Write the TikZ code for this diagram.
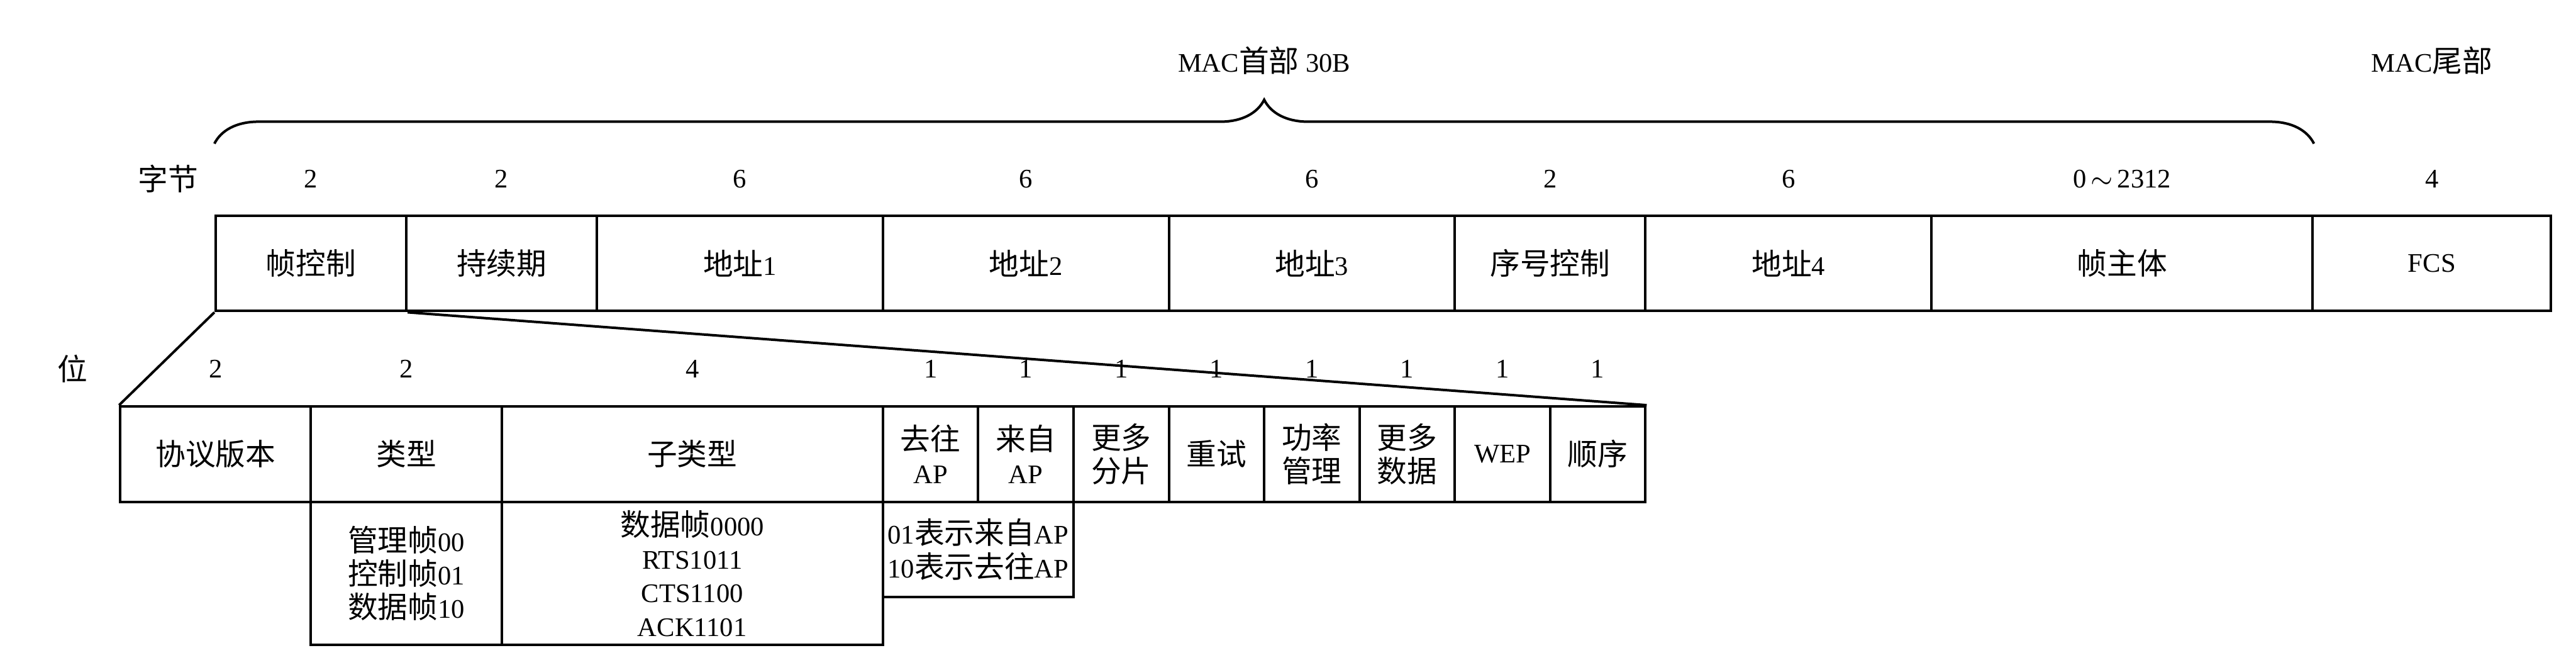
\documentclass[tikz,border=0pt]{standalone}
\usepackage{fontspec}
\setmainfont{Liberation Serif}
\newfontfamily\cjk[Scale=1.12]{Noto Sans CJK SC}
\newcommand{\zh}[1]{{\cjk #1}}
\usetikzlibrary{positioning,decorations.pathreplacing}
\tikzset{field/.style={draw,line width=.75pt,inner sep=0pt,minimum height=1cm,align=center},notebox/.style={draw,line width=.75pt,inner sep=0pt,align=center},numlabel/.style={inner sep=1pt},wedge/.style={line width=.75pt}}

\begin{document}
\begin{tikzpicture}[font=\fontsize{8}{10}\selectfont]
\useasboundingbox (-2.2625,-4.7625) rectangle (24.7625,2.2625);
% MAC frame (bytes)
\node[field,minimum width=2cm] (fc) at (1,-.5) {\zh{帧控制}};
\node[field,minimum width=2cm] (dur) at (3,-.5) {\zh{持续期}};
\node[field,minimum width=3cm] (addrA) at (5.5,-.5) {\zh{地址}1};
\node[field,minimum width=3cm] (addrB) at (8.5,-.5) {\zh{地址}2};
\node[field,minimum width=3cm] (addrC) at (11.5,-.5) {\zh{地址}3};
\node[field,minimum width=2cm] (seq) at (14,-.5) {\zh{序号控制}};
\node[field,minimum width=3cm] (addrD) at (16.5,-.5) {\zh{地址}4};
\node[field,minimum width=4cm] (body) at (20,-.5) {\zh{帧主体}};
\node[field,minimum width=2.5cm] (fcs) at (23.25,-.5) {FCS};
\node[numlabel] (bytes) at (-.5,.3875) {\zh{字节}};
\foreach \f/\v in {fc/2,dur/2,addrA/6,addrB/6,addrC/6,seq/2,addrD/6,body/{0\,$\sim$\,2312},fcs/4}
  \node[numlabel] (n\f) at (\f |- 0,.3875) {\v};
\draw[decorate,decoration={brace,amplitude=.46cm},line width=.75pt] (fc.north west |- 0,.756) -- (body.north east |- 0,.756);
\node (head) at (11,1.625) {MAC\zh{首部} 30B};
\node (tail) at (23.25,1.625) {MAC\zh{尾部}};
% frame control (bits)
\node[field,minimum width=2cm] (pv) at (0,-2.5) {\zh{协议版本}};
\node[field,minimum width=2cm] (ty) at (2,-2.5) {\zh{类型}};
\node[field,minimum width=4cm] (sub) at (5,-2.5) {\zh{子类型}};
\node[field,minimum width=1cm] (tods) at (7.5,-2.5) {\zh{去往}\\AP};
\node[field,minimum width=1cm] (frds) at (8.5,-2.5) {\zh{来自}\\AP};
\node[field,minimum width=1cm] (mf) at (9.5,-2.5) {\zh{更多}\\\zh{分片}};
\node[field,minimum width=1cm] (retry) at (10.5,-2.5) {\zh{重试}};
\node[field,minimum width=1cm] (pwr) at (11.5,-2.5) {\zh{功率}\\\zh{管理}};
\node[field,minimum width=1cm] (md) at (12.5,-2.5) {\zh{更多}\\\zh{数据}};
\node[field,minimum width=1cm] (wep) at (13.5,-2.5) {WEP};
\node[field,minimum width=1cm] (ord) at (14.5,-2.5) {\zh{顺序}};
\node[numlabel] (bits) at (-1.5,-1.606) {\zh{位}};
\foreach \f/\v in {pv/2,ty/2,sub/4,tods/1,frds/1,mf/1,retry/1,pwr/1,md/1,wep/1,ord/1}
  \node[numlabel] (m\f) at (\f |- 0,-1.606) {\v};
\draw[wedge] (fc.south west) -- (pv.north west);
\draw[wedge] (fc.south east) -- (ord.north east);
% values
\node[notebox,minimum width=2cm,minimum height=1.5cm] (tyval) at (2,-3.75) {\zh{管理帧}00\\\zh{控制帧}01\\\zh{数据帧}10};
\node[notebox,minimum width=4cm,minimum height=1.5cm] (subval) at (5,-3.75) {\zh{数据帧}0000\\RTS1011\\CTS1100\\ACK1101};
\node[notebox,minimum width=2cm,minimum height=1cm] (dsval) at (8,-3.5) {01\zh{表示来自}AP\\10\zh{表示去往}AP};
\end{tikzpicture}
\end{document}
